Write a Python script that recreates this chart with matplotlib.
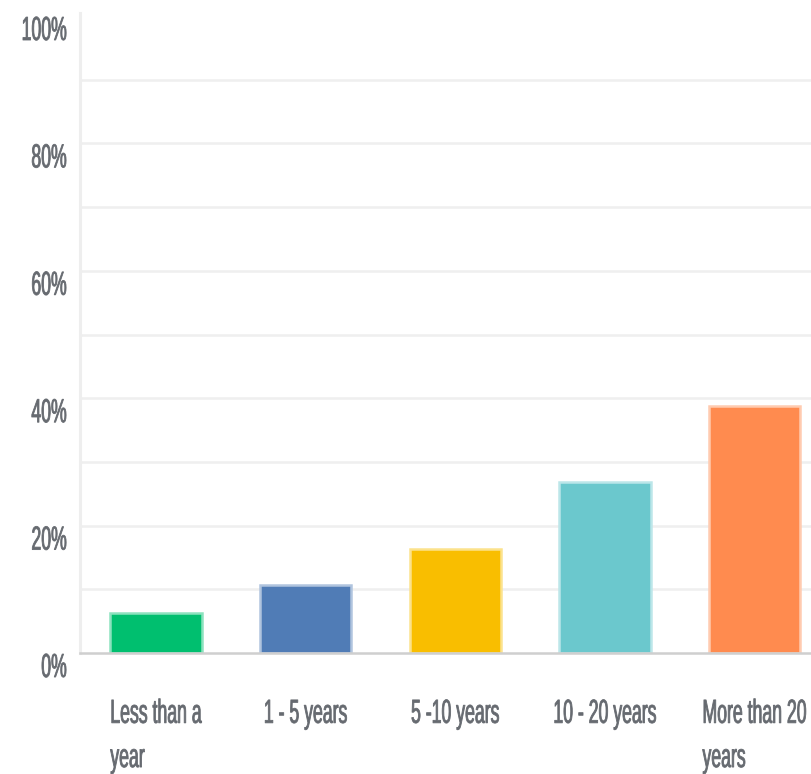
import matplotlib
matplotlib.use('Agg')
import matplotlib.pyplot as plt
from matplotlib.patheffects import AbstractPathEffect
from matplotlib.transforms import Affine2D
from matplotlib.colors import to_rgb

# survey answers, share of respondents (%)
categories = ['Less than a\nyear', '1 - 5 years', '5 -10 years', '10 - 20 years', 'More than 20\nyears']
shares = [6.3, 10.6, 16.3, 26.8, 38.7]
bar_colors = ['#00bf6f', '#507cb6', '#f9be00', '#6bc8cd', '#ff8b4f']
y_ticks = [0, 10, 20, 30, 40, 50, 60, 70, 80, 90, 100]
y_labels = ['0%', '', '20%', '', '40%', '', '60%', '', '80%', '', '100%']

TEXT_COLOR = '#666a70'
plt.rcParams['font.family'] = ['Liberation Sans', 'DejaVu Sans']


class Squeeze(AbstractPathEffect):
    # narrow the glyphs horizontally around the text's own anchor point,
    # with a thin outline so the narrowed strokes keep some weight
    def __init__(self, text, sx=0.53, stroke=0.6):
        super().__init__()
        self.text = text
        self.sx = sx
        self.stroke = stroke

    def draw_path(self, renderer, gc, tpath, affine, rgbFace=None):
        x0, _ = self.text.get_transform().transform(self.text.get_unitless_position())
        squeeze = Affine2D().translate(-x0, 0).scale(self.sx, 1).translate(x0, 0)
        gc0 = renderer.new_gc()
        gc0.copy_properties(gc)
        gc0.set_linewidth(self.stroke)
        gc0.set_foreground(rgbFace)
        gc0.set_joinstyle('round')
        renderer.draw_path(gc0, tpath, affine + squeeze, rgbFace)
        gc0.restore()


def lighter(c, amt=0.55):
    r, g, b = to_rgb(c)
    return (r + (1 - r) * amt, g + (1 - g) * amt, b + (1 - b) * amt)


fig = plt.figure(figsize=(8.12, 7.74), dpi=100)
ax = fig.add_axes([80 / 812, 121 / 774, 732 / 812, 637 / 774])

x = list(range(len(categories)))
ax.bar(x, shares, width=0.61, color=bar_colors,
       edgecolor=[lighter(c) for c in bar_colors], linewidth=1.8, zorder=3)

ax.set_xlim(-0.508, 4.384)
ax.set_ylim(0, 100)

ax.set_yticks(y_ticks, y_labels)
ax.set_xticks(x, categories)
ax.tick_params(axis='y', length=0, pad=9.5, labelsize=24, labelcolor=TEXT_COLOR)
ax.tick_params(axis='x', length=0, pad=33, labelsize=24, labelcolor=TEXT_COLOR)

for lbl in ax.get_yticklabels():
    lbl.set_va('top')
    lbl.set_path_effects([Squeeze(lbl)])
for lbl in ax.get_xticklabels():
    lbl.set_multialignment('left')
    lbl.set_linespacing(1.55)
    lbl.set_path_effects([Squeeze(lbl)])

ax.yaxis.grid(True, color='#efefef', linewidth=1.8, zorder=0)
ax.set_axisbelow(True)
ax.yaxis.get_gridlines()[-1].set_visible(False)
ax.yaxis.get_gridlines()[0].set_visible(False)

for side in ['top', 'right']:
    ax.spines[side].set_visible(False)
ax.spines['left'].set_color('#eeeeee')
ax.spines['left'].set_linewidth(2.2)
ax.spines['left'].set_bounds(0, 100.4)
ax.spines['bottom'].set_color('#cfcfcf')
ax.spines['bottom'].set_linewidth(1.8)
ax.spines['bottom'].set_zorder(4)

fig.savefig('out.png', dpi=100)
